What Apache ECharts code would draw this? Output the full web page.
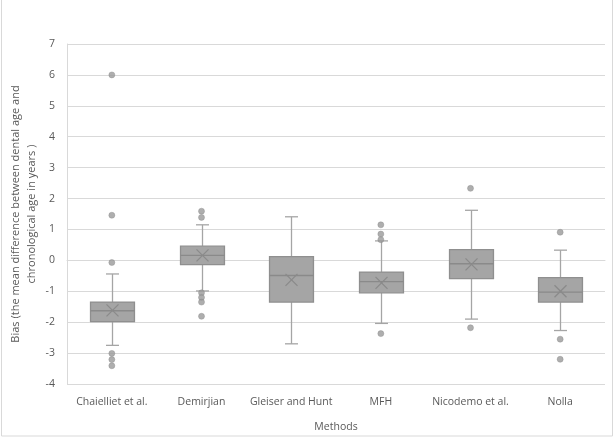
<!DOCTYPE html>
<html>
<head>
<meta charset="utf-8">
<script src="https://cdn.jsdelivr.net/npm/echarts@6/dist/echarts.min.js"></script>
<style>html,body{margin:0;padding:0;background:#fff}#c{width:616px;height:441px}</style>
</head>
<body>
<div id="c"></div>
<script>
var categories = ['Chaielliet et al.', 'Demirjian', 'Gleiser and Hunt', 'MFH', 'Nicodemo et al.', 'Nolla'];
// [lower whisker, Q1, median, Q3, upper whisker]
var boxValues = [
  [-2.75, -1.98, -1.63, -1.35, -0.44],
  [-0.99, -0.14, 0.16, 0.46, 1.15],
  [-2.70, -1.35, -0.49, 0.12, 1.41],
  [-2.04, -1.05, -0.69, -0.38, 0.63],
  [-1.90, -0.59, -0.11, 0.35, 1.62],
  [-2.27, -1.35, -1.03, -0.56, 0.33]
];
var meanValues = [-1.62, 0.16, -0.63, -0.73, -0.13, -1.00];
var outlierValues = [
  [6.0, 1.46, -0.07, -3.01, -3.21, -3.41],
  [1.59, 1.39, -1.05, -1.20, -1.35, -1.81],
  [],
  [1.15, 0.85, 0.67, -2.37],
  [2.33, -2.18],
  [0.91, -2.55, -3.20]
];
var yTicks = [-4, -3, -2, -1, 0, 1, 2, 3, 4, 5, 6, 7];

var boxData = boxValues.map(function (b, i) { return [i].concat(b).concat([meanValues[i]]); });
var outlierData = [];
outlierValues.forEach(function (arr, i) { arr.forEach(function (v) { outlierData.push([i, v]); }); });

var font = 'Open Sans';
var chart = echarts.init(document.getElementById('c'), null, { renderer: 'canvas' });
chart.setOption({
  animation: false,
  backgroundColor: '#fff',
  grid: { left: 67, right: 11, top: 44, bottom: 57, containLabel: false, outerBoundsMode: 'none' },
  graphic: [{
    type: 'rect', shape: { x: 1.5, y: -3, width: 611, height: 439 },
    style: { fill: 'none', stroke: '#d9d9d9', lineWidth: 1 }, silent: true, z: -10
  }],
  xAxis: {
    type: 'category', data: categories,
    name: 'Methods', nameLocation: 'middle', nameGap: 38, nameMoveOverlap: false,
    nameTextStyle: { color: '#595959', fontFamily: font, fontSize: 10.5 },
    axisLine: { show: true, lineStyle: { color: '#d9d9d9' } },
    axisTick: { show: false },
    axisLabel: { color: '#595959', fontFamily: font, fontSize: 10.5, margin: 13, interval: 0 },
    splitLine: { show: false }
  },
  yAxis: {
    type: 'value', min: yTicks[0], max: yTicks[yTicks.length - 1], interval: 1,
    name: 'Bias (the mean difference between dental age and\nchronological age in years )',
    nameLocation: 'middle', nameGap: 27, nameMoveOverlap: false,
    nameTextStyle: { color: '#595959', fontFamily: font, fontSize: 11, lineHeight: 16 },
    axisLine: { show: true, lineStyle: { color: '#d9d9d9' } },
    axisTick: { show: false },
    axisLabel: { color: '#595959', fontFamily: font, fontSize: 10.5, margin: 12 },
    splitLine: { lineStyle: { color: '#d9d9d9' } }
  },
  series: [
    {
      type: 'custom',
      data: boxData,
      z: 2,
      renderItem: function (params, api) {
        var i = api.value(0);
        var lo = api.coord([i, api.value(1)]);
        var q1 = api.coord([i, api.value(2)]);
        var md = api.coord([i, api.value(3)]);
        var q3 = api.coord([i, api.value(4)]);
        var hi = api.coord([i, api.value(5)]);
        var mn = api.coord([i, api.value(6)]);
        var bw = api.size([1, 0])[0] * 0.49;
        var cx = Math.round(lo[0]) + 0.5;
        var cap = 6.5;
        var xs = 6;
        var wl = { stroke: '#a5a5a5', lineWidth: 1.3 };
        return {
          type: 'group',
          children: [
            { type: 'line', shape: { x1: cx, y1: q3[1], x2: cx, y2: hi[1] }, style: wl },
            { type: 'line', shape: { x1: cx, y1: q1[1], x2: cx, y2: lo[1] }, style: wl },
            { type: 'line', shape: { x1: cx - cap, y1: hi[1], x2: cx + cap, y2: hi[1] }, style: wl },
            { type: 'line', shape: { x1: cx - cap, y1: lo[1], x2: cx + cap, y2: lo[1] }, style: wl },
            { type: 'rect', shape: { x: cx - bw / 2, y: q3[1], width: bw, height: q1[1] - q3[1] },
              style: { fill: '#a5a5a5', stroke: '#8f8f8f', lineWidth: 1.3 } },
            { type: 'line', shape: { x1: cx - bw / 2, y1: md[1], x2: cx + bw / 2, y2: md[1] },
              style: { stroke: '#8a8a8a', lineWidth: 1.3 } },
            { type: 'line', shape: { x1: cx - xs, y1: mn[1] - xs, x2: cx + xs, y2: mn[1] + xs },
              style: { stroke: '#8a8a8a', lineWidth: 1.2 } },
            { type: 'line', shape: { x1: cx - xs, y1: mn[1] + xs, x2: cx + xs, y2: mn[1] - xs },
              style: { stroke: '#8a8a8a', lineWidth: 1.2 } }
          ]
        };
      }
    },
    {
      type: 'scatter',
      data: outlierData,
      symbol: 'circle', symbolSize: 6,
      itemStyle: { color: '#9a9a9a', borderColor: '#8a8a8a', borderWidth: 0.5 },
      z: 3
    }
  ]
});
</script>
</body>
</html>
